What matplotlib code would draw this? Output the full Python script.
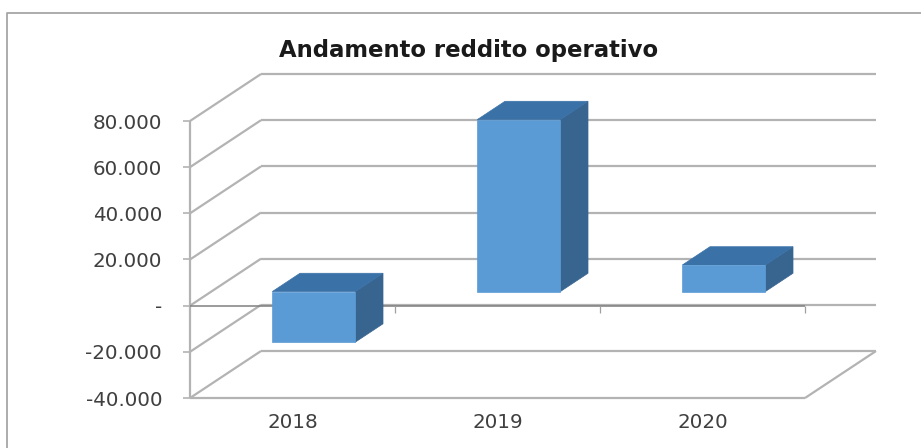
import matplotlib
matplotlib.use("Agg")
import matplotlib.pyplot as plt
from matplotlib.lines import Line2D
from matplotlib.patches import Polygon

years = ["2018", "2019", "2020"]
values = [-21900, 74500, 11500]
y_ticks = [-40000, -20000, 0, 20000, 40000, 60000, 80000]
y_labels = ["-40.000", "-20.000", "-", "20.000", "40.000", "60.000", "80.000"]

W, H = 921, 448
# shear of the back wall, in category and value units
DX = 71 / 205
DY = 47 / 46.2 * 20000
BAR_W = 0.405
BAR_Z0, BAR_Z1 = 0.30, 0.69

FRONT = "#5b9bd5"
TOP = "#3a72a8"
SIDE = "#386490"
GRID = "#b3b3b3"
TEXT = "#404040"

plt.rcParams["font.family"] = ["DejaVu Sans"]

fig = plt.figure(figsize=(W / 100, H / 100), dpi=100)
# chart frame, top and left edges only
fig.add_artist(Line2D([6.5 / W, 6.5 / W, 1], [0, 1 - 13 / H, 1 - 13 / H], color="#a6a6a6", lw=1.3))

ax = fig.add_axes([190 / W, 1 - 398 / H, 615 / W, 277 / H])
ax.set_xlim(0, 3)
ax.set_ylim(-40000, 80000)
for s in ax.spines.values():
    s.set_visible(False)
ax.patch.set_alpha(0)


def sheared(x, v, z):
    return (x + z * DX, v + z * DY)


def line(p, q, **kw):
    ax.plot([p[0], q[0]], [p[1], q[1]], clip_on=False, solid_capstyle="butt", **kw)


# walls and floor
for t in y_ticks:
    line(sheared(0, t, 0), sheared(0, t, 1), color=GRID, lw=1.6, zorder=1)
    line(sheared(0, t, 1), sheared(3, t, 1), color=GRID, lw=1.6, zorder=1)
line((0, -40000), (3, -40000), color=GRID, lw=1.6, zorder=1)
line((3, -40000), sheared(3, -40000, 1), color=GRID, lw=1.6, zorder=1)
line((0, -40000), (0, 80000), color=GRID, lw=1.6, zorder=1)

# zero line with category ticks
line((0, 0), (3, 0), color="#808080", lw=1.1, zorder=2)
for i in range(1, 4):
    line((i, 0), (i, -3000), color="#a0a0a0", lw=0.9, zorder=2)

# boxes
for i, v in enumerate(values):
    x0 = i + 0.5 - BAR_W / 2
    x1 = i + 0.5 + BAR_W / 2
    lo, hi = min(v, 0), max(v, 0)
    front = [sheared(x0, lo, BAR_Z0), sheared(x1, lo, BAR_Z0), sheared(x1, hi, BAR_Z0), sheared(x0, hi, BAR_Z0)]
    top = [sheared(x0, hi, BAR_Z0), sheared(x1, hi, BAR_Z0), sheared(x1, hi, BAR_Z1), sheared(x0, hi, BAR_Z1)]
    side = [sheared(x1, lo, BAR_Z0), sheared(x1, lo, BAR_Z1), sheared(x1, hi, BAR_Z1), sheared(x1, hi, BAR_Z0)]
    for pts, col in [(side, SIDE), (top, TOP), (front, FRONT)]:
        ax.add_patch(Polygon(pts, closed=True, fc=col, ec=col, lw=0.5, zorder=3, clip_on=False))

ax.set_yticks(y_ticks)
ax.set_yticklabels(y_labels, fontsize=14.3, color=TEXT)
ax.set_xticks([0.5, 1.5, 2.5])
ax.set_xticklabels(years, fontsize=14.3, color=TEXT)
ax.tick_params(axis="y", length=5, width=1.2, color=GRID, pad=15)
ax.tick_params(axis="x", length=0, pad=10.5)

fig.text(469 / W, 1 - 51 / H, "Andamento reddito operativo", ha="center", va="center",
         fontsize=16.4, fontweight="bold", color="#1a1a1a")

fig.savefig("out.png", dpi=100)
